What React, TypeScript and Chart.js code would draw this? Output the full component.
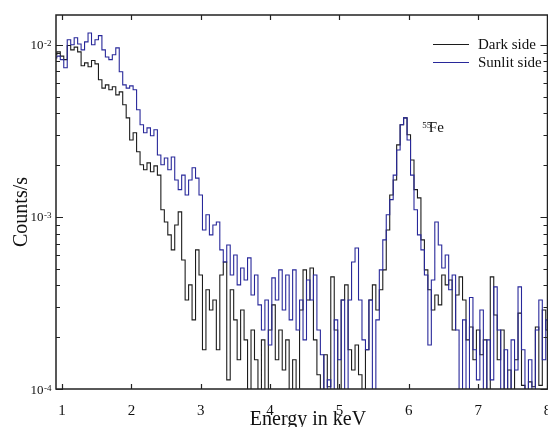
import React, { useEffect, useRef } from 'react';
import { Chart, registerables } from 'chart.js';

Chart.register(...registerables);

// Histogram bins (keV): centre of first bin and bin width
const BIN_START = 0.9;
const BIN_WIDTH = 0.05;

// Counts/s per bin, Dark side
const darkSide = [
  8.75e-3, 9.1e-3, 8.6e-3, 8.2e-3, 9.9e-3, 9.35e-3, 9.7e-3, 9.1e-3, 7.55e-3, 7.85e-3,
  7.45e-3, 8.1e-3, 7.75e-3, 6.26e-3, 5.6e-3, 5.85e-3, 5.48e-3, 5.7e-3, 5.12e-3, 5.33e-3,
  4.48e-3, 3.76e-3, 2.8e-3, 3.08e-3, 2.39e-3, 2.01e-3, 1.88e-3, 2.06e-3, 1.83e-3, 1.98e-3,
  1.75e-3, 1.1e-3, 9.35e-4, 7.86e-4, 6.43e-4, 8.98e-4, 1.07e-3, 5.62e-4, 3.29e-4, 4.03e-4,
  2.52e-4, 6.43e-4, 4.6e-4, 1.69e-4, 3.77e-4, 2.88e-4, 3.29e-4, 1.69e-4, 4.6e-4, 5.47e-4,
  1.13e-4, 3.77e-4, 2.52e-4, 1.48e-4, 2.88e-4, 1.93e-4, 8e-5, 2.2e-4, 1.48e-4, 8e-5,
  1.93e-4, 8e-5, 2.2e-4, 3.08e-4, 1.48e-4, 2.2e-4, 1.29e-4, 1.93e-4, 8e-5, 1.48e-4,
  8e-5, 2.88e-4, 4.92e-4, 3.29e-4, 5.05e-4, 1.93e-4, 1.21e-4, 8e-5, 1.58e-4, 1.03e-4,
  4.48e-4, 2.2e-4, 8e-5, 3.29e-4, 4.03e-4, 1.69e-4, 1.29e-4, 1.8e-4, 1.21e-4, 8e-5,
  1.69e-4, 3.29e-4, 4.03e-4, 2.88e-4, 3.77e-4, 4.92e-4, 8.4e-4, 1.34e-3, 1.64e-3, 2.62e-3,
  3.43e-3, 3.76e-3, 3.0e-3, 2.14e-3, 1.44e-3, 1.29e-3, 7.35e-4, 4.92e-4, 3.77e-4, 2.88e-4,
  3.52e-4, 3.08e-4, 4.6e-4, 4.03e-4, 4.3e-4, 2.2e-4, 3.52e-4, 4.48e-4, 3.29e-4, 1.93e-4,
  2.29e-4, 1.48e-4, 2.2e-4, 1.58e-4, 1.93e-4, 8e-5, 4.48e-4, 2.69e-4, 1.48e-4, 2.2e-4,
  8e-5, 1.29e-4, 8e-5, 1.48e-4, 2.76e-4, 1.05e-4, 8e-5, 1.1e-4, 1.03e-4, 2.29e-4,
  1.05e-4, 2.88e-4, 2.2e-4,
];

// Counts/s per bin, Sunlit side
const sunlitSide = [
  8.4e-3, 8.6e-3, 8.2e-3, 7.35e-3, 1.07e-2, 1.0e-2, 1.1e-2, 1.01e-2, 9.35e-3, 1.04e-2,
  1.17e-2, 1.0e-2, 1.07e-2, 1.13e-2, 9.35e-3, 8.5e-3, 8.2e-3, 8.75e-3, 9.6e-3, 6.97e-3,
  5.85e-3, 5.6e-3, 5.77e-3, 5.48e-3, 4.19e-3, 3.43e-3, 3.08e-3, 3.29e-3, 2.96e-3, 3.21e-3,
  2.29e-3, 2.01e-3, 2.2e-3, 1.88e-3, 2.23e-3, 1.64e-3, 1.44e-3, 1.75e-3, 1.34e-3, 1.64e-3,
  1.93e-3, 1.68e-3, 1.34e-3, 8.4e-4, 1.03e-3, 7.86e-4, 8.98e-4, 9.35e-4, 6.43e-4, 5.47e-4,
  6.87e-4, 4.6e-4, 6.01e-4, 4.03e-4, 5.05e-4, 4.3e-4, 5.78e-4, 3.52e-4, 4.6e-4, 3.08e-4,
  2.2e-4, 3.29e-4, 1.8e-4, 4.42e-4, 3.29e-4, 4.92e-4, 2.88e-4, 4.6e-4, 2.52e-4, 4.92e-4,
  2.2e-4, 3.29e-4, 1.93e-4, 4.3e-4, 3.29e-4, 4.6e-4, 2.2e-4, 1.58e-4, 8e-5, 1.13e-4,
  8e-5, 2.52e-4, 1.48e-4, 3.29e-4, 8e-5, 3.29e-4, 5.47e-4, 6.6e-4, 3.29e-4, 1.93e-4,
  1.69e-4, 3.29e-4, 8e-5, 2.52e-4, 4.92e-4, 7.35e-4, 1.03e-3, 1.26e-3, 1.75e-3, 2.45e-3,
  3.43e-3, 3.76e-3, 2.8e-3, 1.75e-3, 1.1e-3, 7.86e-4, 6.43e-4, 4.6e-4, 1.8e-4, 4.3e-4,
  9.35e-4, 6.87e-4, 5.05e-4, 6.01e-4, 3.77e-4, 4.6e-4, 2.2e-4, 8e-5, 2.52e-4, 8e-5,
  3.4e-4, 1.69e-4, 1.13e-4, 2.88e-4, 8e-5, 1.93e-4, 1.13e-4, 3.92e-4, 2.2e-4, 8e-5,
  1.69e-4, 8e-5, 1.93e-4, 1.29e-4, 3.92e-4, 1.69e-4, 8e-5, 1.48e-4, 8e-5, 2.2e-4,
  3.29e-4, 1.48e-4, 2.52e-4,
];

const seriesNames = ['Dark side', 'Sunlit side'];
const seriesColors = ['#1c1c1c', '#28289a'];
const xTickValues = [1, 2, 3, 4, 5, 6, 7, 8];
const yDecades = [1e-4, 1e-3, 1e-2];
const yDecadeExponents = ['-4', '-3', '-2'];
const xRange = [0.913, 8.0];
const yRange = [1e-4, 0.0149];
const xTitle = 'Energy in keV';
const yTitle = 'Counts/s';
const peakLabel = { mass: '55', element: 'Fe', energy: 6.195, rate: 3.12e-3 };

const SERIF = "'Liberation Serif', 'Times New Roman', serif";

const toPoints = (vals: number[]) =>
  vals.map((v, i) => ({ x: +(BIN_START + i * BIN_WIDTH).toFixed(3), y: v }));

const overlay = {
  id: 'overlay',
  afterDraw(chart: any) {
    const { ctx, chartArea: a, scales } = chart;
    const xs = scales.x;
    const ys = scales.y;
    ctx.save();
    ctx.strokeStyle = '#222';
    ctx.lineWidth = 1.5;
    ctx.strokeRect(a.left, a.top, a.right - a.left, a.bottom - a.top);

    ctx.lineWidth = 1.2;
    ctx.beginPath();
    for (const v of xTickValues) {
      const px = Math.round(xs.getPixelForValue(v)) + 0.5;
      ctx.moveTo(px, a.bottom);
      ctx.lineTo(px, a.bottom - 5);
      ctx.moveTo(px, a.top);
      ctx.lineTo(px, a.top + 5);
    }
    for (const d of yDecades) {
      for (let m = 1; m <= 9; m++) {
        const v = d * m;
        if (v > ys.max * 1.0001) break;
        const py = Math.round(ys.getPixelForValue(v)) + 0.5;
        const len = m === 1 ? 7 : 4;
        ctx.moveTo(a.left, py);
        ctx.lineTo(a.left + len, py);
        ctx.moveTo(a.right, py);
        ctx.lineTo(a.right - len, py);
      }
    }
    ctx.stroke();

    // y tick labels 10^n
    ctx.fillStyle = '#111';
    yDecades.forEach((d, i) => {
      const py = ys.getPixelForValue(d);
      ctx.font = `13px ${SERIF}`;
      ctx.textAlign = 'right';
      ctx.textBaseline = 'alphabetic';
      ctx.fillText('10', 43.5, py + 4.5);
      ctx.font = `9px ${SERIF}`;
      ctx.textAlign = 'left';
      ctx.fillText(yDecadeExponents[i], 44, py + 1.5);
    });

    // axis titles
    ctx.font = `20px ${SERIF}`;
    ctx.textAlign = 'center';
    ctx.textBaseline = 'alphabetic';
    ctx.fillText(xTitle, 308, 425);
    ctx.save();
    ctx.translate(22, 212);
    ctx.rotate(-Math.PI / 2);
    ctx.textBaseline = 'middle';
    ctx.fillText(yTitle, 0, 0);
    ctx.restore();

    // legend
    seriesNames.forEach((name, i) => {
      const ly = 44 + i * 18;
      ctx.strokeStyle = seriesColors[i];
      ctx.lineWidth = 1.2;
      ctx.beginPath();
      ctx.moveTo(433, ly + 0.5);
      ctx.lineTo(469, ly + 0.5);
      ctx.stroke();
      ctx.fillStyle = '#111';
      ctx.font = `15px ${SERIF}`;
      ctx.textAlign = 'left';
      ctx.textBaseline = 'middle';
      ctx.fillText(name, 478, ly + 1);
    });

    // peak annotation
    const ax = xs.getPixelForValue(peakLabel.energy);
    const ay = ys.getPixelForValue(peakLabel.rate);
    ctx.textBaseline = 'alphabetic';
    ctx.textAlign = 'left';
    ctx.font = `9px ${SERIF}`;
    ctx.fillText(peakLabel.mass, ax, ay - 3.5);
    ctx.font = `15px ${SERIF}`;
    ctx.fillText(peakLabel.element, ax + 6.5, ay);
    ctx.restore();
  },
};

export default function App() {
  const ref = useRef<HTMLCanvasElement>(null);
  useEffect(() => {
    if (!ref.current) return;
    const chart = new Chart(ref.current, {
      type: 'line',
      data: {
        datasets: [
          {
            label: seriesNames[0],
            data: toPoints(darkSide),
            borderColor: seriesColors[0],
            borderWidth: 1.1,
            pointRadius: 0,
            stepped: 'middle',
            fill: false,
            order: 1,
          },
          {
            label: seriesNames[1],
            data: toPoints(sunlitSide),
            borderColor: seriesColors[1],
            borderWidth: 1.1,
            pointRadius: 0,
            stepped: 'middle',
            fill: false,
            order: 0,
          },
        ],
      },
      options: {
        animation: false,
        responsive: false,
        devicePixelRatio: 1,
        layout: { padding: { top: 15, right: 22.5, left: 0, bottom: 0 } },
        plugins: { legend: { display: false }, tooltip: { enabled: false } },
        scales: {
          x: {
            type: 'linear',
            min: xRange[0],
            max: xRange[1],
            grid: { display: false },
            border: { display: false },
            ticks: {
              stepSize: 1,
              includeBounds: false,
              color: '#111',
              padding: 5,
              maxRotation: 0,
              autoSkip: false,
              font: { family: SERIF, size: 15 },
            },
            afterFit: (s: any) => {
              s.height = 38;
            },
          },
          y: {
            type: 'logarithmic',
            min: yRange[0],
            max: yRange[1],
            grid: { display: false },
            border: { display: false },
            ticks: { display: false },
            afterFit: (s: any) => {
              s.width = 56;
            },
          },
        },
      },
      plugins: [overlay],
    } as any);
    return () => chart.destroy();
  }, []);
  return (
    <div
      style={{
        position: 'fixed',
        left: 0,
        top: 0,
        width: 548,
        height: 427,
        overflow: 'hidden',
        background: '#fff',
      }}
    >
      <canvas ref={ref} width={570} height={427} style={{ display: 'block' }} />
    </div>
  );
}
